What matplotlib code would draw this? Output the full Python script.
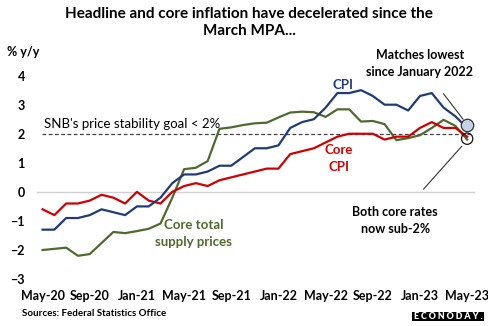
import matplotlib
matplotlib.use('Agg')
import matplotlib.pyplot as plt
from matplotlib.patches import Rectangle

plt.rcParams['font.family'] = ['Lato', 'DejaVu Sans']

months = ['May-20', 'Jun-20', 'Jul-20', 'Aug-20', 'Sep-20', 'Oct-20', 'Nov-20', 'Dec-20',
          'Jan-21', 'Feb-21', 'Mar-21', 'Apr-21', 'May-21', 'Jun-21', 'Jul-21', 'Aug-21',
          'Sep-21', 'Oct-21', 'Nov-21', 'Dec-21', 'Jan-22', 'Feb-22', 'Mar-22', 'Apr-22',
          'May-22', 'Jun-22', 'Jul-22', 'Aug-22', 'Sep-22', 'Oct-22', 'Nov-22', 'Dec-22',
          'Jan-23', 'Feb-23', 'Mar-23', 'Apr-23', 'May-23']

cpi = [-1.3, -1.3, -0.9, -0.9, -0.8, -0.6, -0.7, -0.8,
       -0.5, -0.5, -0.2, 0.3, 0.6, 0.6, 0.7, 0.9,
       0.9, 1.2, 1.5, 1.5, 1.6, 2.2, 2.4, 2.5,
       2.9, 3.4, 3.4, 3.5, 3.3, 3.0, 3.0, 2.8,
       3.3, 3.4, 2.9, 2.6, 2.2]

core_cpi = [-0.6, -0.8, -0.4, -0.4, -0.3, -0.1, -0.2, -0.4,
            0.0, -0.3, -0.4, 0.0, 0.2, 0.3, 0.2, 0.4,
            0.5, 0.6, 0.7, 0.8, 0.8, 1.3, 1.4, 1.5,
            1.7, 1.9, 2.0, 2.0, 2.0, 1.8, 1.9, 1.9,
            2.2, 2.4, 2.2, 2.2, 1.9]

core_supply = [-2.0, -1.96, -1.92, -2.2, -2.14, -1.76, -1.38, -1.42,
               -1.35, -1.27, -1.09, -0.2, 0.78, 0.83, 1.06, 2.17,
               2.22, 2.3, 2.36, 2.38, 2.56, 2.73, 2.76, 2.74,
               2.58, 2.84, 2.84, 2.42, 2.44, 2.33, 1.78, 1.85,
               1.95, 2.2, 2.48, 2.27, 1.8]

tick_labels = months[::4]
goal = 2.0

navy = '#1F3B7A'
red = '#D00000'
green = '#4F6A2E'

fig = plt.figure(figsize=(4.89, 3.26), dpi=100)
ax = fig.add_axes([0.075, 0.144, 0.896, 0.624])

x = list(range(len(months)))
ax.plot(x, core_supply, color=green, lw=1.6, zorder=3)
ax.plot(x, core_cpi, color=red, lw=1.6, zorder=4)
ax.plot(x, cpi, color=navy, lw=1.6, zorder=5)

ax.axhline(0, color='#D0D0D0', lw=1, zorder=1)
ax.plot([-0.05, 36.3], [goal, goal], color='#404040', lw=0.9, ls=(0, (3, 2)), zorder=2)
ax.text(0.1, goal + 0.12, "SNB's price stability goal < 2%", fontsize=9.5, va='bottom', ha='left')

ax.set_xlim(-0.5, 36.65)
ax.set_ylim(-3, 4)
ax.set_xticks(x[::4])
ax.set_xticklabels(tick_labels)
ax.set_yticks(range(-3, 5))
for s in ax.spines.values():
    s.set_visible(False)
ax.tick_params(length=0, labelsize=9)
ax.tick_params(axis='x', pad=8)
ax.tick_params(axis='y', pad=8.5)
for lab in ax.get_xticklabels() + ax.get_yticklabels():
    lab.set_fontweight('bold')

# end markers
ax.scatter([36], [2.29], s=80, facecolor='#C8D2E6', edgecolor='#333333', lw=0.9, zorder=6, clip_on=False)
ax.scatter([36], [1.83], s=66, facecolor='none', edgecolor='#111111', lw=0.9, zorder=6, clip_on=False)

ax.annotate('Matches lowest\nsince January 2022', xy=(35.8, 2.42), xytext=(32.0, 4.43),
            ha='center', va='center', fontsize=9, fontweight='bold', linespacing=1.5,
            annotation_clip=False,
            arrowprops=dict(arrowstyle='-', color='#333333', lw=0.8, shrinkA=12, shrinkB=2))
ax.annotate('Both core rates\nnow sub-2%', xy=(35.7, 1.64), xytext=(29.9, -1.0),
            ha='center', va='center', fontsize=9, fontweight='bold', linespacing=1.5,
            annotation_clip=False,
            arrowprops=dict(arrowstyle='-', color='#333333', lw=0.8, shrinkA=14, shrinkB=2))

ax.text(25.5, 3.68, 'CPI', color=navy, fontsize=9.5, fontweight='bold', ha='center', va='center')
ax.text(25.1, 1.15, 'Core\nCPI', color=red, fontsize=9.5, fontweight='bold', ha='center', va='center',
        linespacing=1.5)
ax.text(12.8, -1.43, 'Core total\nsupply prices', color=green, fontsize=9.5, fontweight='bold',
        ha='center', va='center', linespacing=1.5)

fig.text(0.047, 0.84, '% y/y', fontsize=9, fontweight='bold', ha='center', va='center')
fig.text(0.51, 0.98, 'Headline and core inflation have decelerated since the\nMarch MPA...',
         fontsize=11, fontweight='bold', ha='center', va='top', linespacing=1.35)
fig.text(0.045, 0.037, 'Sources: Federal Statistics Office', fontsize=7, fontweight='bold',
         ha='left', va='center')
fig.patches.append(Rectangle((412 / 489, 5 / 326), 72 / 489, 9 / 326, transform=fig.transFigure,
                             facecolor='black', edgecolor='none'))
fig.text(448 / 489, 9.5 / 326, 'E C O N O D A Y .', fontsize=6.3, fontweight='heavy', color='white',
         ha='center', va='center')

fig.savefig('out.png', dpi=100)
